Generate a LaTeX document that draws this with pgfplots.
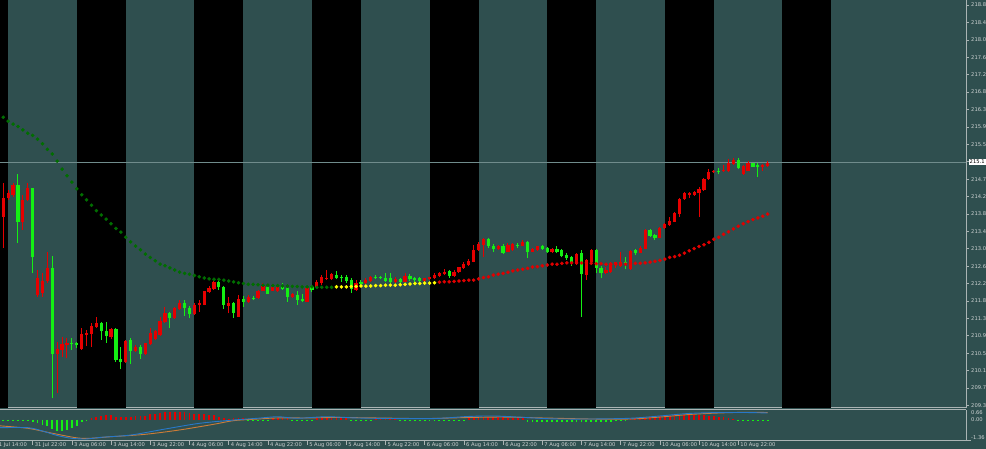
\documentclass[border=0pt]{standalone}
\usepackage{fontspec}
\setmainfont{DejaVu Sans}
\usepackage{pgfplots}
\pgfplotsset{compat=1.18}
\usepackage{pgfplotstable}
\definecolor{slate}{RGB}{47,79,79}
\definecolor{cred}{RGB}{230,0,0}
\definecolor{cgreen}{RGB}{20,240,20}
\definecolor{madark}{RGB}{0,110,0}
\definecolor{mared}{RGB}{225,0,0}
\definecolor{mayel}{RGB}{255,255,0}
\definecolor{axgray}{RGB}{170,180,180}
\definecolor{txt}{RGB}{205,210,210}
\definecolor{pline}{RGB}{112,140,140}
\definecolor{mblue}{RGB}{40,120,200}
\definecolor{morange}{RGB}{205,125,55}
\newcommand\lab{\fontsize{5.2}{6}\selectfont}

\pgfplotstableread{
i hi lo top bot
0 214.56 213.02 214.21 213.77
1 214.40 214.17 214.32 214.21
2 214.57 214.24 214.52 214.28
4 214.28 213.45 214.17 213.65
5 214.56 214.13 214.44 214.17
7 212.50 211.87 212.30 211.91
8 212.43 211.87 212.25 211.95
9 212.94 212.19 212.54 212.25
11 210.80 209.57 210.62 210.50
12 210.92 210.44 210.74 210.61
13 210.88 210.40 210.76 210.73
16 211.12 210.60 210.98 210.62
17 211.08 210.69 211.01 210.96
18 211.23 210.68 211.17 210.98
19 211.39 211.12 211.25 211.15
22 211.12 210.85 211.10 210.90
25 210.84 210.28 210.82 210.32
27 210.72 210.56 210.68 210.58
29 210.77 210.48 210.76 210.50
30 211.12 210.72 211.00 210.74
31 211.08 210.84 211.04 210.85
32 211.39 210.93 211.29 210.96
33 211.63 211.23 211.49 211.27
35 211.63 211.33 211.59 211.35
36 211.79 211.55 211.72 211.57
39 211.71 211.43 211.68 211.46
40 211.79 211.51 211.72 211.66
41 212.01 211.66 211.99 211.68
42 212.12 211.96 212.07 211.98
43 212.23 212.03 212.21 212.05
46 211.87 211.47 211.71 211.65
48 211.91 211.38 211.80 211.39
50 211.91 211.72 211.85 211.75
52 212.03 211.81 212.01 211.83
53 212.19 211.99 212.12 212.00
55 212.10 212.00 212.09 212.01
56 212.12 211.97 212.10 211.99
59 211.95 211.84 211.92 211.86
62 212.10 211.73 212.07 211.75
64 212.26 212.07 212.21 212.09
65 212.38 212.14 212.33 212.19
66 212.50 212.26 212.32 212.29
67 212.42 212.26 212.40 212.29
72 212.26 212.00 212.19 212.03
74 212.30 212.16 212.26 212.19
75 212.36 212.22 212.34 212.25
80 212.34 212.19 212.29 212.21
82 212.42 212.21 212.37 212.22
86 212.32 212.22 212.30 212.25
87 212.34 212.26 212.33 212.29
88 212.42 212.28 212.38 212.30
89 212.46 212.33 212.42 212.36
90 212.52 212.38 212.46 212.41
92 212.50 212.33 212.46 212.37
93 212.58 212.44 212.57 212.46
94 212.68 212.53 212.64 212.54
95 212.76 212.60 212.72 212.62
96 213.10 212.68 212.98 212.70
97 213.17 212.96 213.11 212.98
98 213.25 212.82 213.23 213.10
101 213.10 212.98 213.07 212.99
103 213.14 212.92 213.10 212.94
104 213.14 212.96 213.11 212.98
106 213.21 213.06 213.17 213.08
108 213.02 212.92 213.00 212.94
109 213.08 212.96 213.06 212.98
112 213.02 212.90 213.00 212.92
117 212.90 212.62 212.88 212.64
119 212.76 212.26 212.74 212.38
120 212.99 212.66 212.98 212.68
123 212.57 212.41 212.50 212.42
124 212.70 212.44 212.66 212.46
125 212.70 212.54 212.68 212.62
126 212.94 212.58 212.70 212.60
128 212.98 212.50 212.96 212.52
130 213.06 212.90 213.02 212.91
131 213.47 212.99 213.44 213.01
134 213.53 213.25 213.51 213.27
135 213.63 213.48 213.60 213.49
136 213.75 213.55 213.67 213.57
137 213.87 213.64 213.85 213.65
138 214.21 213.77 214.18 213.83
139 214.35 214.17 214.32 214.18
140 214.36 214.21 214.32 214.29
141 214.39 214.27 214.36 214.28
142 214.48 213.77 214.43 214.32
143 214.68 214.39 214.66 214.40
144 214.90 214.64 214.82 214.66
145 214.88 214.80 214.85 214.82
147 215.00 214.83 214.88 214.85
148 215.13 214.84 215.04 214.86
149 215.16 215.00 215.12 215.02
151 215.00 214.77 214.97 214.78
152 215.08 214.85 215.05 214.86
155 215.02 214.86 214.99 214.96
156 215.08 214.96 215.05 214.97
}\redc

\pgfplotstableread{
i hi lo top bot
3 214.78 213.14 214.52 213.65
6 214.46 212.42 214.44 212.82
10 212.83 209.45 212.54 210.50
14 210.88 210.60 210.77 210.74
15 210.80 210.64 210.76 210.73
20 211.27 210.84 211.25 211.04
21 211.26 210.77 211.04 210.93
23 211.13 210.32 211.09 210.36
24 210.68 210.14 210.38 210.32
26 210.88 210.27 210.84 210.58
28 210.72 210.38 210.68 210.50
34 211.51 211.12 211.49 211.37
37 211.79 211.41 211.72 211.60
38 211.65 211.35 211.60 211.46
44 212.24 212.03 212.21 212.09
45 212.12 211.57 212.09 211.67
47 211.75 211.37 211.71 211.49
49 211.88 211.63 211.82 211.75
51 211.89 211.78 211.84 211.81
54 212.12 211.92 212.10 211.94
57 212.19 212.03 212.11 212.05
58 212.10 211.75 212.07 211.87
60 211.99 211.67 211.91 211.79
61 211.92 211.73 211.80 211.77
63 212.14 211.98 212.10 212.03
68 212.48 212.28 212.38 212.30
69 212.38 212.21 212.33 212.30
70 212.38 212.19 212.34 212.24
71 212.32 211.95 212.26 212.05
73 212.26 212.10 212.22 212.17
76 212.38 212.28 212.34 212.30
77 212.37 212.29 212.34 212.30
78 212.42 212.22 212.32 212.25
79 212.44 212.19 212.30 212.22
81 212.30 212.19 212.29 212.21
83 212.40 212.24 212.37 212.29
84 212.34 212.22 212.32 212.26
85 212.34 212.22 212.30 212.25
91 212.50 212.32 212.48 212.37
99 213.25 213.02 213.23 213.08
100 213.12 212.94 213.08 212.99
102 213.12 212.88 213.07 212.90
105 213.14 213.02 213.10 213.07
107 213.19 212.79 213.17 212.94
110 213.10 212.98 213.06 213.00
111 213.04 212.90 213.02 212.92
113 213.06 212.90 213.00 212.94
114 213.00 212.80 212.98 212.83
115 212.90 212.74 212.85 212.78
116 212.83 212.60 212.80 212.70
118 212.98 211.39 212.90 212.41
121 212.99 212.42 212.98 212.56
122 212.60 212.30 212.56 212.42
127 212.80 212.52 212.70 212.66
129 213.00 212.86 212.98 212.91
132 213.47 213.29 213.44 213.31
133 213.36 213.21 213.33 213.25
146 214.92 214.78 214.86 214.83
150 215.16 214.90 215.12 214.92
153 215.05 214.94 215.04 214.96
154 215.05 214.72 214.99 214.96
}\greenc

\pgfplotstableread{
i v
0 216.13
1 216.04
2 215.97
3 215.91
4 215.83
5 215.75
6 215.70
7 215.61
8 215.50
9 215.37
10 215.26
11 215.09
12 214.90
13 214.74
14 214.59
15 214.43
16 214.29
17 214.17
18 214.04
19 213.91
20 213.81
21 213.71
22 213.60
23 213.49
24 213.40
25 213.28
26 213.17
27 213.07
28 212.98
29 212.88
30 212.80
31 212.72
32 212.64
33 212.60
34 212.55
35 212.50
36 212.45
37 212.42
38 212.40
39 212.37
40 212.34
41 212.31
42 212.29
43 212.28
44 212.28
45 212.26
46 212.24
47 212.22
48 212.20
49 212.18
50 212.16
51 212.16
52 212.15
53 212.14
54 212.14
55 212.13
56 212.13
57 212.12
58 212.12
59 212.11
60 212.11
61 212.10
62 212.10
63 212.10
64 212.09
65 212.09
66 212.09
67 212.09
}\magr

\pgfplotstableread{
i v
68 212.10
69 212.10
70 212.10
71 212.11
72 212.11
73 212.12
74 212.12
75 212.12
76 212.13
77 212.13
78 212.14
79 212.14
80 212.14
81 212.15
82 212.16
83 212.17
84 212.18
85 212.18
86 212.19
87 212.19
88 212.20
}\maye

\pgfplotstableread{
i v
89 212.21
90 212.22
91 212.22
92 212.23
93 212.24
94 212.25
95 212.26
96 212.26
97 212.29
98 212.32
99 212.34
100 212.38
101 212.40
102 212.42
103 212.45
104 212.48
105 212.50
106 212.52
107 212.54
108 212.57
109 212.58
110 212.60
111 212.62
112 212.64
113 212.64
114 212.66
115 212.67
116 212.67
117 212.67
118 212.67
119 212.67
120 212.66
121 212.65
122 212.65
123 212.64
124 212.64
125 212.64
126 212.64
127 212.64
128 212.66
129 212.66
130 212.66
131 212.67
132 212.69
133 212.71
134 212.73
135 212.76
136 212.80
137 212.82
138 212.85
139 212.90
140 212.96
141 213.01
142 213.06
143 213.10
144 213.16
145 213.23
146 213.28
147 213.35
148 213.41
149 213.48
150 213.54
151 213.60
152 213.65
153 213.70
154 213.74
155 213.78
156 213.83
}\mare

\pgfplotstableread{
i v
0 -0.12
1 -0.12
2 -0.12
3 -0.12
4 -0.12
5 -0.12
6 -0.18
7 -0.25
8 -0.36
9 -0.43
10 -0.63
11 -0.74
12 -0.74
13 -0.69
14 -0.58
15 -0.41
16 -0.18
17 -0.10
50 -0.10
51 -0.10
52 -0.10
53 -0.10
54 -0.10
59 -0.10
60 -0.10
61 -0.10
62 -0.10
63 -0.10
71 -0.10
72 -0.10
73 -0.10
74 -0.10
75 -0.10
81 -0.10
82 -0.10
83 -0.10
84 -0.10
85 -0.10
86 -0.10
87 -0.10
88 -0.10
89 -0.10
90 -0.10
91 -0.10
92 -0.10
93 -0.10
94 -0.10
107 -0.13
108 -0.13
109 -0.13
110 -0.13
111 -0.13
112 -0.13
113 -0.13
114 -0.13
115 -0.13
116 -0.13
117 -0.14
118 -0.15
119 -0.15
120 -0.15
121 -0.14
122 -0.14
123 -0.13
124 -0.13
125 -0.12
126 -0.12
127 -0.12
150 -0.12
151 -0.12
152 -0.12
153 -0.12
154 -0.12
155 -0.12
156 -0.12
}\hgreen

\pgfplotstableread{
i v
18 0.09
19 0.19
20 0.24
21 0.31
22 0.31
23 0.19
24 0.19
25 0.19
26 0.19
27 0.24
28 0.24
29 0.26
30 0.35
31 0.35
32 0.42
33 0.49
34 0.49
35 0.53
36 0.53
37 0.49
38 0.42
39 0.37
40 0.35
41 0.35
42 0.31
43 0.31
44 0.19
45 0.09
46 0.05
47 0.10
48 0.10
49 0.10
55 0.10
56 0.10
57 0.10
58 0.10
64 0.08
65 0.08
66 0.08
67 0.08
68 0.08
69 0.08
70 0.08
76 0.08
77 0.08
78 0.08
79 0.08
80 0.08
95 0.14
96 0.14
97 0.14
98 0.14
99 0.14
100 0.14
101 0.14
102 0.14
103 0.10
104 0.10
105 0.10
106 0.10
128 0.08
129 0.10
130 0.12
131 0.20
132 0.20
133 0.18
134 0.22
135 0.25
136 0.27
137 0.28
138 0.31
139 0.31
140 0.30
141 0.30
142 0.28
143 0.28
144 0.27
145 0.22
146 0.18
147 0.14
148 0.10
149 0.06
}\hred

\begin{document}
\begin{tikzpicture}
\fill[slate] (0pt,0pt) rectangle (986pt,449pt);

% ---------------- main price panel ----------------
\begin{axis}[
  at={(0pt,41.3pt)}, anchor=south west,
  scale only axis, width=966pt, height=407.7pt,
  xmin=-0.67, xmax=196.47, ymin=209.228, ymax=218.919,
  clip mode=individual,
  axis x line*=bottom, axis y line*=right,
  axis line style={draw=axgray, line width=0.8pt},
  xtick=\empty,
  ytick={218.800,218.386,217.972,217.559,217.145,216.731,216.317,215.903,215.490,215.076,214.662,214.248,213.834,213.421,213.007,212.593,212.179,211.765,211.352,210.938,210.524,210.110,209.696,209.283},
  yticklabels={218.8,218.4,218.0,217.6,217.2,216.8,216.3,215.9,215.5,{},214.7,214.2,213.8,213.4,213.0,212.6,212.2,211.8,211.3,210.9,210.5,210.1,209.7,209.3},
  tick align=outside, major tick length=3pt,
  tick style={draw=axgray, line width=0.6pt},
  yticklabel style={font=\lab, text=txt, inner sep=0pt, anchor=west, xshift=2pt},
  /pgf/number format/assume math mode=true,
]
% session bands
\fill[black] (axis cs:-0.67,209.228) rectangle (axis cs:1,218.919);
\fill[black] (axis cs:15,209.228) rectangle (axis cs:25,218.919);
\fill[black] (axis cs:39,209.228) rectangle (axis cs:49,218.919);
\fill[black] (axis cs:63,209.228) rectangle (axis cs:73,218.919);
\fill[black] (axis cs:87,209.228) rectangle (axis cs:97,218.919);
\fill[black] (axis cs:111,209.228) rectangle (axis cs:121,218.919);
\fill[black] (axis cs:135,209.228) rectangle (axis cs:145,218.919);
\fill[black] (axis cs:159,209.228) rectangle (axis cs:169,218.919);
% current price line
\addplot[pline, line width=0.8pt] coordinates {(-1,215.07) (197,215.07)};
% candles
\addplot[cred, line width=1pt, quiver={u=0, v=\thisrow{hi}-\thisrow{lo}}] table[x=i, y=lo] \redc;
\addplot[cred, line width=3.2pt, quiver={u=0, v=\thisrow{top}-\thisrow{bot}}] table[x=i, y=bot] \redc;
\addplot[cgreen, line width=1pt, quiver={u=0, v=\thisrow{hi}-\thisrow{lo}}] table[x=i, y=lo] \greenc;
\addplot[cgreen, line width=3.2pt, quiver={u=0, v=\thisrow{top}-\thisrow{bot}}] table[x=i, y=bot] \greenc;
% moving average dots
\addplot[only marks, mark=*, mark size=1.6pt, madark, mark options={draw=madark, fill=madark}] table[x=i, y=v] \magr;
\addplot[only marks, mark=*, mark size=1.6pt, mayel, mark options={draw=mayel, fill=mayel}] table[x=i, y=v] \maye;
\addplot[only marks, mark=*, mark size=1.6pt, mared, mark options={draw=mared, fill=mared}] table[x=i, y=v] \mare;
% current price box
\node[fill=white, text=black, font=\lab, inner xsep=1pt, inner ysep=0.7pt, anchor=west] at (axis cs:196.47,215.07) [xshift=2.5pt] {215.1};
\end{axis}

% ---------------- indicator panel ----------------
\begin{axis}[
  at={(0pt,9pt)}, anchor=south west,
  scale only axis, width=966pt, height=30.3pt,
  xmin=-0.67, xmax=196.47, ymin=-1.36, ymax=0.66,
  clip mode=individual,
  axis x line*=bottom, axis y line*=right,
  axis line style={draw=axgray, line width=0.8pt},
  xtick={-2,6,14,22,30,38,46,54,62,70,78,86,94,102,110,118,126,134,142,150},
  xticklabels={},
  ytick={-1.36}, yticklabels={},
  tick align=outside, major tick length=5pt,
  tick style={draw=axgray, line width=0.6pt},
]
\draw[axgray, line width=0.8pt] (rel axis cs:0,1) -- (rel axis cs:1,1);
\addplot[cgreen, line width=1.8pt, quiver={u=0, v=\thisrow{v}}] table[x=i, y expr=0] \hgreen;
\addplot[cred, line width=1.8pt, quiver={u=0, v=\thisrow{v}}] table[x=i, y expr=0] \hred;
\addplot[morange, line width=0.9pt, smooth] table {
x y
-1 -0.41
5 -0.58
10 -0.91
16 -1.25
22 -1.14
29 -0.98
36 -0.69
43 -0.31
47 -0.07
52 0.04
56 0.11
62 0.11
68 0.14
76 0.11
86 0.07
95 0.14
102 0.17
110 0.11
120 0.04
128 0.04
134 0.17
140 0.34
146 0.44
152 0.49
156 0.47
};
\addplot[mblue, line width=0.9pt, smooth] table {
x y
-1 -0.54
5 -0.54
8 -0.76
11 -1.06
14 -1.25
17 -1.29
20 -1.18
26 -1.03
33 -0.63
40 -0.25
47 -0.03
52 0.09
56 0.19
60 0.09
66 0.19
72 0.11
80 0.07
88 0.07
95 0.21
100 0.24
105 0.17
112 0.05
120 0.04
128 0.09
134 0.24
140 0.41
146 0.47
152 0.47
156 0.44
};
\node[font=\lab, text=txt, inner sep=0pt, anchor=north west] at (axis cs:196.47,0.66) [xshift=5pt, yshift=-1pt] {0.66};
\node[font=\lab, text=txt, inner sep=0pt, anchor=west] at (axis cs:196.47,0) [xshift=5pt] {0.00};
\node[font=\lab, text=txt, inner sep=0pt, anchor=west] at (axis cs:196.47,-1.36) [xshift=5pt, yshift=2pt] {-1.36};
% time labels
\foreach \t/\s in {-2/31 Jul 14:00, 6/31 Jul 22:00, 14/3 Aug 06:00, 22/3 Aug 14:00, 30/3 Aug 22:00, 38/4 Aug 06:00, 46/4 Aug 14:00, 54/4 Aug 22:00, 62/5 Aug 06:00, 70/5 Aug 14:00, 78/5 Aug 22:00, 86/6 Aug 06:00, 94/6 Aug 14:00, 102/6 Aug 22:00, 110/7 Aug 06:00, 118/7 Aug 14:00, 126/7 Aug 22:00, 134/10 Aug 06:00, 142/10 Aug 14:00, 150/10 Aug 22:00}{
  \edef\tmp{\noexpand\node[font=\noexpand\lab, text=txt, inner sep=0pt, anchor=north west] at (axis cs:\t,-1.36) [xshift=2pt, yshift=-2.2pt] {\s};}
  \tmp
}
\end{axis}
\pgfresetboundingbox
\path[use as bounding box] (0pt,0pt) rectangle (986pt,449pt);
\end{tikzpicture}
\end{document}
